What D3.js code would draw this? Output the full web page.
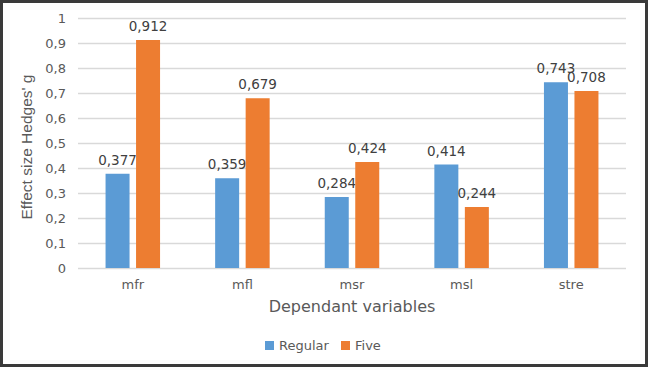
<!DOCTYPE html>
<html>
<head>
<meta charset="utf-8">
<script src="https://cdn.jsdelivr.net/npm/d3@7"></script>
<style>
  body { margin: 0; background: #fff; }
  svg { display: block; }
</style>
</head>
<body>
<svg id="chart" width="649" height="369"></svg>
<script>
var categories = ["mfr", "mfl", "msr", "msl", "stre"];
var seriesNames = ["Regular", "Five"];
var regular = [0.377, 0.359, 0.284, 0.414, 0.743];
var five = [0.912, 0.679, 0.424, 0.244, 0.708];
var yTicks = [0, 0.1, 0.2, 0.3, 0.4, 0.5, 0.6, 0.7, 0.8, 0.9, 1];
var colors = ["#5b9bd5", "#ed7d31"];

var svg = d3.select("#chart"),
  margin = {top: 18, right: 23, bottom: 101, left: 78},
  width = 649 - margin.left - margin.right,
  height = 369 - margin.top - margin.bottom;

// outer frame
svg.append("rect")
  .attr("x", 1.5).attr("y", 1.5)
  .attr("width", 645).attr("height", 364)
  .attr("fill", "#fff")
  .attr("stroke", "#3a3a3a")
  .attr("stroke-width", 3);

var g = svg.append("g").attr("transform", "translate(" + margin.left + "," + margin.top + ")");

var x = d3.scaleBand().domain(categories).range([0, width]).paddingInner(0).paddingOuter(0);
var y = d3.scaleLinear().domain([0, 1]).range([height, 0]);

var fmt = function(v) { return String(v).replace(".", ","); };

// gridlines
g.append("g")
  .selectAll("line")
  .data(yTicks)
  .enter().append("line")
  .attr("x1", 0).attr("x2", width)
  .attr("y1", function(d) { return Math.round(y(d)) + 0.5; })
  .attr("y2", function(d) { return Math.round(y(d)) + 0.5; })
  .attr("stroke", "#d9d9d9")
  .attr("stroke-width", 1.5);

// y axis
var yAxis = g.append("g")
  .attr("transform", "translate(-9,0)")
  .call(d3.axisLeft(y).tickValues(yTicks).tickSize(0).tickFormat(function(d) { return fmt(d); }));
yAxis.select(".domain").remove();
yAxis.selectAll("text")
  .attr("fill", "#595959")
  .style("font-family", "DejaVu Sans, sans-serif")
  .style("font-size", "13px");

// x axis labels
var xAxis = g.append("g")
  .attr("transform", "translate(0," + height + ")")
  .call(d3.axisBottom(x).tickSize(0).tickPadding(12));
xAxis.select(".domain").remove();
xAxis.selectAll("text")
  .attr("fill", "#595959")
  .style("font-family", "DejaVu Sans, sans-serif")
  .style("font-size", "13px");

// bars
var barW = 24, gap = 6.5;
var series = [regular, five];
series.forEach(function(vals, s) {
  var off = s === 0 ? -gap / 2 - barW : gap / 2;
  g.append("g").selectAll("rect")
    .data(vals)
    .enter().append("rect")
    .attr("x", function(d, i) { return x(categories[i]) + x.bandwidth() / 2 + off; })
    .attr("y", function(d) { return y(d); })
    .attr("width", barW)
    .attr("height", function(d) { return height - y(d); })
    .attr("fill", colors[s]);

  g.append("g").selectAll("text")
    .data(vals)
    .enter().append("text")
    .attr("x", function(d, i) { return x(categories[i]) + x.bandwidth() / 2 + off + barW / 2; })
    .attr("y", function(d) { return y(d) - 9; })
    .attr("text-anchor", "middle")
    .attr("fill", "#404040")
    .style("font-family", "DejaVu Sans, sans-serif")
    .style("font-size", "13.5px")
    .text(function(d) { return fmt(d); });
});

// axis titles
svg.append("text")
  .attr("transform", "translate(32,147) rotate(-90)")
  .attr("text-anchor", "middle")
  .attr("fill", "#595959")
  .attr("textLength", 145)
  .attr("lengthAdjust", "spacingAndGlyphs")
  .style("font-family", "Liberation Sans, Arial, sans-serif")
  .style("font-size", "15px")
  .text("Effect size Hedges' g");

svg.append("text")
  .attr("x", margin.left + width / 2)
  .attr("y", 312)
  .attr("text-anchor", "middle")
  .attr("fill", "#595959")
  .style("font-family", "DejaVu Sans, sans-serif")
  .style("font-size", "16px")
  .text("Dependant variables");

// legend
var legendX = [265, 341];
seriesNames.forEach(function(name, s) {
  svg.append("rect")
    .attr("x", legendX[s]).attr("y", 341)
    .attr("width", 9).attr("height", 9)
    .attr("fill", colors[s]);
  svg.append("text")
    .attr("x", legendX[s] + 14).attr("y", 350)
    .attr("fill", "#595959")
    .style("font-family", "DejaVu Sans, sans-serif")
    .style("font-size", "13px")
    .text(name);
});
</script>
</body>
</html>
